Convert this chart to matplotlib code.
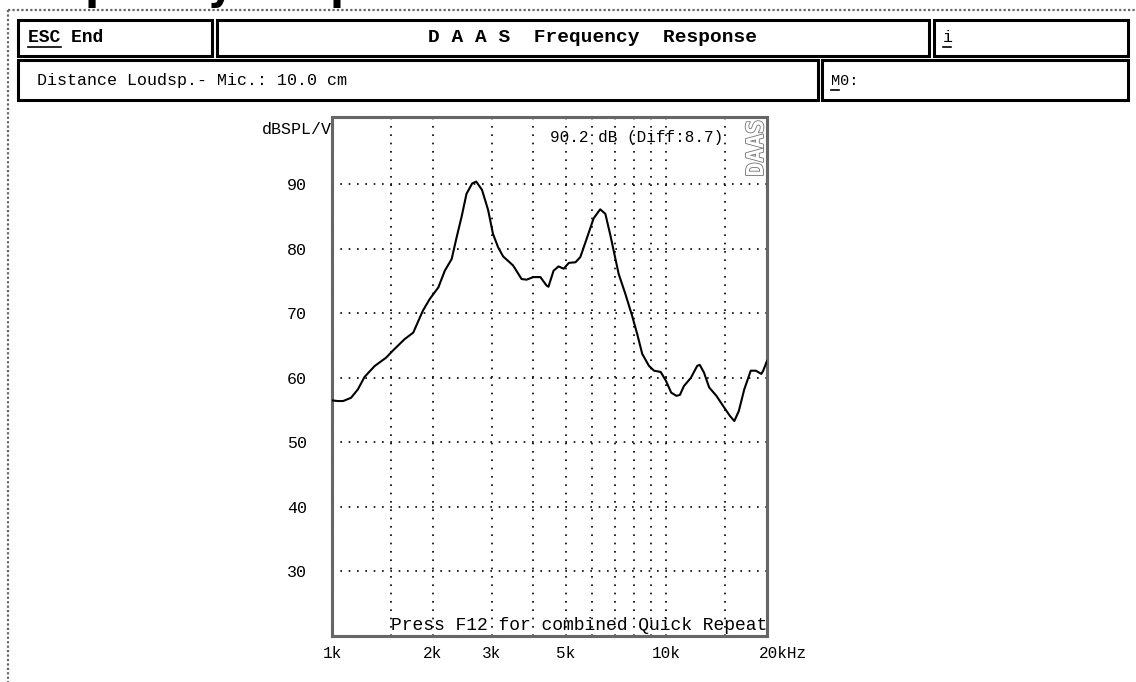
import matplotlib.pyplot as plt
import matplotlib.patheffects as pe
from matplotlib.patches import Rectangle
from matplotlib.lines import Line2D
from matplotlib.ticker import NullLocator
from matplotlib.transforms import Affine2D, ScaledTranslation

freq_hz = [1000, 1040, 1080, 1140, 1195, 1250, 1340, 1450, 1520, 1650, 1750,
           1870, 1960, 2080, 2175, 2280, 2360, 2440, 2525, 2625, 2700, 2810,
           2930, 3030, 3140, 3250, 3480, 3690, 3820, 4000, 4200, 4380, 4440,
           4600, 4760, 4930, 5110, 5350, 5530, 5800, 6060, 6340, 6570, 6800,
           6990, 7200, 7540, 7900, 8180, 8470, 8870, 9190, 9620, 9980, 10340,
           10720, 10980, 11280, 11840, 12370, 12590, 12960, 13430, 14120,
           14800, 15490, 15970, 16470, 17100, 17880, 18520, 19230, 19480, 20000]
level_db = [56.5, 56.4, 56.4, 56.9, 58.2, 60.1, 61.8, 63.1, 64.2, 66.0, 67.0,
            70.4, 72.2, 74.0, 76.6, 78.4, 81.8, 84.9, 88.5, 90.1, 90.4, 89.1,
            86.0, 82.3, 80.2, 78.8, 77.4, 75.3, 75.2, 75.6, 75.6, 74.3, 74.1,
            76.6, 77.25, 76.9, 77.8, 77.9, 78.7, 81.8, 84.7, 86.1, 85.4, 82.1,
            79.2, 76.1, 73.0, 69.6, 66.8, 63.7, 61.85, 61.1, 60.9, 59.5, 57.7,
            57.2, 57.35, 58.7, 60.0, 61.85, 62.0, 60.8, 58.5, 57.2,
            55.6, 54.1, 53.3, 54.85, 58.2, 61.1, 61.1, 60.6, 61.1, 62.6]

ytick_vals = [30, 40, 50, 60, 70, 80, 90]
xtick_vals = [1000, 2000, 3000, 5000, 10000, 20000]
xtick_labels = ['1k', '2k', '3k', '5k', '10k', '20kHz']
grid_freqs = [1500, 2000, 3000, 4000, 5000, 6000, 7000, 8000, 9000, 10000, 15000]

W, H = 1136, 682
MONO = 'Liberation Mono'
fig = plt.figure(figsize=(W / 100, H / 100), dpi=100)
# pixel coordinates, origin top-left
px = Affine2D().scale(1 / W, -1 / H).translate(0, 1) + fig.transFigure

# page heading, cut off at the top like the screenshot
fig.text(-2, -1, 'Frequency Response Curve', transform=px, fontsize=29,
         fontweight='bold', family='DejaVu Sans', va='baseline', ha='left')

# dotted window frame
fig.add_artist(Line2D([8, W], [10, 10], transform=px, color='0.4', lw=1.6, ls=(0, (1, 1))))
fig.add_artist(Line2D([8, 8], [10, H], transform=px, color='0.4', lw=1.6, ls=(0, (1, 1))))


def box(x0, y0, x1, y1):
    fig.add_artist(Rectangle((x0, y0), x1 - x0, y1 - y0, transform=px,
                             fill=False, ec='black', lw=2.2))


def underline(x0, x1, y):
    fig.add_artist(Line2D([x0, x1], [y, y], transform=px, color='black', lw=1.2))


box(18, 20, 212, 56)
box(217, 20, 929, 56)
box(934, 20, 1128, 56)
box(18, 60, 818, 100)
box(822, 60, 1128, 100)

fig.text(28, 38, 'ESC End', transform=px, family=MONO, fontweight='bold',
         fontsize=13, va='center', ha='left')
underline(28, 61, 47)
fig.text(592, 38, 'D A A S  Frequency  Response', transform=px, family=MONO,
         fontweight='bold', fontsize=14, va='center', ha='center')
fig.text(943, 38, 'i', transform=px, family=MONO, fontsize=12, va='center', ha='left')
underline(943, 951, 47)
fig.text(37, 81, 'Distance Loudsp.- Mic.: 10.0 cm', transform=px, family=MONO,
         fontsize=12, va='center', ha='left')
fig.text(831, 81, 'M0:', transform=px, family=MONO, fontsize=11, va='center', ha='left')
underline(831, 839, 90)

# plot area
ax = fig.add_axes([332 / W, 1 - 636 / H, 435 / W, 519 / H])
ax.set_xscale('log')
ax.set_xlim(1000, 20000)
ax.set_ylim(20, 100.4)

for f in grid_freqs:
    ax.axvline(f, color='black', lw=1.2, ls=(0, (1, 4)), zorder=1)
for v in ytick_vals:
    ax.axhline(v, color='black', lw=1.2, ls=(0, (1, 4)), zorder=1)

ax.plot(freq_hz, level_db, color='black', lw=1.5, zorder=3)

ax.set_yticks(ytick_vals)
ax.set_xticks(xtick_vals, xtick_labels)
ax.xaxis.set_minor_locator(NullLocator())
ax.tick_params(axis='y', length=0, pad=18, labelsize=12)
ax.tick_params(axis='x', length=0, pad=7, labelsize=11.5)
for lab in ax.get_xticklabels() + ax.get_yticklabels():
    lab.set_family(MONO)
last = ax.get_xticklabels()[-1]
last.set_transform(last.get_transform() + ScaledTranslation(0.16, 0, fig.dpi_scale_trans))

for s in ax.spines.values():
    s.set_linewidth(2.2)
    s.set_color('0.4')
    s.set_linestyle((0, (0.5, 0.5)))

ax.text(1000, 98.4, 'dBSPL/V', family=MONO, fontsize=12, ha='right', va='center')
ax.text(0.9, 0.96, '90.2 dB (Diff:8.7)', transform=ax.transAxes, family=MONO,
        fontsize=11.5, ha='right', va='center')
ax.text(0.975, 0.995, 'DAAS', transform=ax.transAxes, family='DejaVu Sans Mono',
        fontweight='bold', fontsize=17, rotation=90, ha='center', va='top',
        color='white', path_effects=[pe.withStroke(linewidth=1.2, foreground='0.45')])
ax.text(1500, 20.3, 'Press F12 for combined Quick Repeat', family=MONO,
        fontsize=13, ha='left', va='bottom', zorder=4)

fig.savefig('out.png', dpi=100)
